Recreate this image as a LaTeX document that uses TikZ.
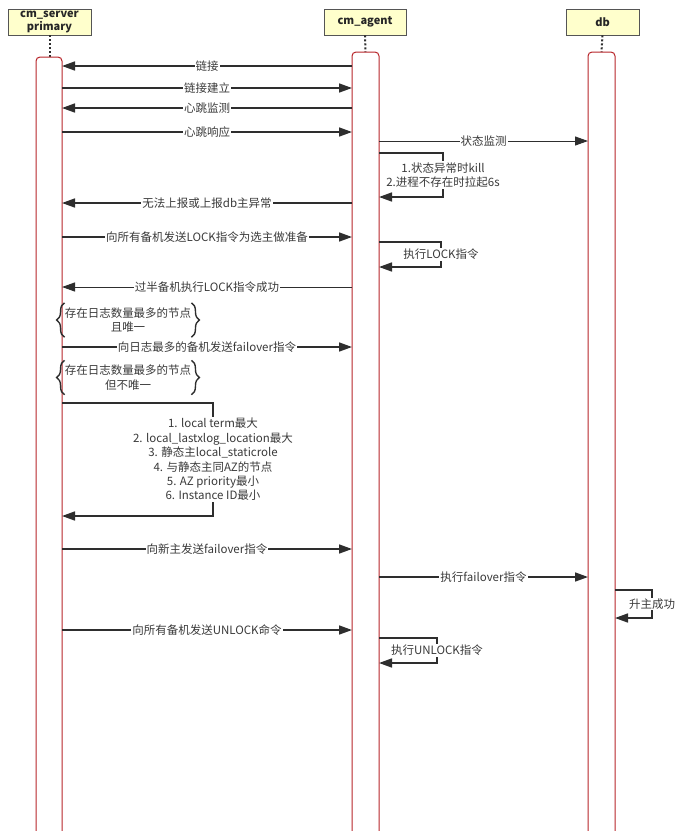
\documentclass[tikz,border=0pt]{standalone}
\usepackage{fontspec}
\setmainfont{Noto Sans CJK SC}
\usetikzlibrary{arrows.meta,decorations.pathreplacing,shadows}
\definecolor{lineC}{HTML}{2E2E2E}
\definecolor{txtC}{HTML}{3A3A3A}
\definecolor{actC}{HTML}{B8262B}
\definecolor{headF}{HTML}{FFFFCC}
\definecolor{headD}{HTML}{555555}
\begin{document}
\begin{tikzpicture}[x=1pt,y=-1pt,
 head/.style={draw=headD, line width=0.8pt, fill=headF, inner sep=0pt, minimum height=26pt, align=center,
   font=\fontsize{11}{13.5}\selectfont\bfseries, text=black!85,
   drop shadow={shadow xshift=1pt, shadow yshift=-1.2pt, opacity=0.35, fill=black!60}},
 life/.style={draw=lineC, line width=2pt, dash pattern=on 2pt off 2pt},
 act/.style={draw=actC, line width=1pt, rounded corners=4pt},
 msg/.style={draw=lineC, line width=1.6pt, -{Triangle[length=13pt,width=9pt]}},
 thinmsg/.style={msg, line width=1pt},
 lbl/.style={fill=white, inner sep=1pt, text=txtC, font=\fontsize{11.5}{14.4}\selectfont, align=center},
 bracetxt/.style={lbl, fill=none, inner xsep=0pt, inner ysep=0pt, minimum height=34pt},
 brc/.style={draw=lineC, line width=1.4pt, decorate, decoration={brace, amplitude=8pt}},
]
\useasboundingbox (0,0) rectangle (680,831);
\fill[white] (0,0) rectangle (680,831);

% headers
\node[head, minimum width=83pt] (srvH) at (49.5,22) {cm\_server\\primary};
\node[head, minimum width=82pt] (agtH) at (365,22) {cm\_agent};
\node[head, minimum width=73pt] (dbH) at (602.5,22) {db};

% activation tops
\coordinate (srvTop) at (49.5,57);
\coordinate (agtTop) at (365.5,52);
\coordinate (dbTop) at (601.5,52);
\draw[life] (srvH.south) -- (srvTop);
\draw[life] (agtH.south) -- (agtTop);
\draw[life] (dbH.south) -- (dbTop);

% activation bars
\draw[act] (36,831) -- (36,57) -- (62,57) -- (62,831);
\draw[act] (352,831) -- (352,52) -- (379,52) -- (379,831);
\draw[act] (588,831) -- (588,52) -- (615,52) -- (615,831);

% messages
\coordinate (m1a) at (352,66);  \coordinate (m1b) at (62,66);
\draw[msg] (m1a) -- node[lbl]{链接} (m1b);
\coordinate (m2a) at (62,88);   \coordinate (m2b) at (352,88);
\draw[msg] (m2a) -- node[lbl]{链接建立} (m2b);
\coordinate (m3a) at (352,108); \coordinate (m3b) at (62,108);
\draw[msg] (m3a) -- node[lbl]{心跳监测} (m3b);
\coordinate (m4a) at (62,132);  \coordinate (m4b) at (352,132);
\draw[msg] (m4a) -- node[lbl]{心跳响应} (m4b);
\coordinate (m5a) at (379,141); \coordinate (m5b) at (588,141);
\draw[thinmsg] (m5a) -- node[lbl]{状态监测} (m5b);

% loop 1 on agent
\coordinate (l1a) at (379,153); \coordinate (l1b) at (443,153);
\coordinate (l1c) at (443,197); \coordinate (l1d) at (379,197);
\draw[msg] (l1a) -- (l1b) -- node[lbl]{1.状态异常时kill\\2.进程不存在时拉起6s} (l1c) -- (l1d);

\coordinate (m6a) at (352,203); \coordinate (m6b) at (62,203);
\draw[msg] (m6a) -- node[lbl]{无法上报或上报db主异常} (m6b);
\coordinate (m7a) at (62,237);  \coordinate (m7b) at (352,237);
\draw[msg] (m7a) -- node[lbl]{向所有备机发送LOCK指令为选主做准备} (m7b);

% loop 2 on agent
\coordinate (l2a) at (379,242); \coordinate (l2b) at (441,242);
\coordinate (l2c) at (441,267); \coordinate (l2d) at (379,267);
\draw[msg] (l2a) -- (l2b) -- node[lbl]{执行LOCK指令} (l2c) -- (l2d);

\coordinate (m8a) at (352,287); \coordinate (m8b) at (62,287);
\draw[thinmsg] (m8a) -- node[lbl]{过半备机执行LOCK指令成功} (m8b);

% brace 1
\node[bracetxt] (b1) at (128,320) {存在日志数量最多的节点\\且唯一};
\draw[brc] (b1.south west) -- (b1.north west);
\draw[brc] (b1.north east) -- (b1.south east);

\coordinate (m9a) at (62,347);  \coordinate (m9b) at (352,347);
\draw[msg] (m9a) -- node[lbl]{向日志最多的备机发送failover指令} (m9b);

% brace 2
\node[bracetxt] (b2) at (128,377.5) {存在日志数量最多的节点\\但不唯一};
\draw[brc] (b2.south west) -- (b2.north west);
\draw[brc] (b2.north east) -- (b2.south east);

% loop 3 on server
\coordinate (l3a) at (62,403);  \coordinate (l3b) at (213,403);
\coordinate (l3c) at (213,516); \coordinate (l3d) at (62,516);
\draw[msg] (l3a) -- (l3b) -- node[lbl]{1. local term最大\\2. local\_lastxlog\_location最大\\3. 静态主local\_staticrole\\4. 与静态主同AZ的节点\\5. AZ priority最小\\6. Instance ID最小} (l3c) -- (l3d);

\coordinate (m10a) at (62,549);  \coordinate (m10b) at (352,549);
\draw[msg] (m10a) -- node[lbl]{向新主发送failover指令} (m10b);
\coordinate (m11a) at (379,577); \coordinate (m11b) at (588,577);
\draw[msg] (m11a) -- node[lbl]{执行failover指令} (m11b);

% loop 4 on db
\coordinate (l4a) at (615,590); \coordinate (l4b) at (652,590);
\coordinate (l4c) at (652,618); \coordinate (l4d) at (615,618);
\draw[msg] (l4a) -- (l4b) -- node[lbl]{升主成功} (l4c) -- (l4d);

\coordinate (m12a) at (62,630);  \coordinate (m12b) at (352,630);
\draw[msg] (m12a) -- node[lbl]{向所有备机发送UNLOCK命令} (m12b);

% loop 5 on agent
\coordinate (l5a) at (379,638); \coordinate (l5b) at (437,638);
\coordinate (l5c) at (437,663); \coordinate (l5d) at (379,663);
\draw[msg] (l5a) -- (l5b) -- node[lbl]{执行UNLOCK指令} (l5c) -- (l5d);
\end{tikzpicture}
\end{document}
